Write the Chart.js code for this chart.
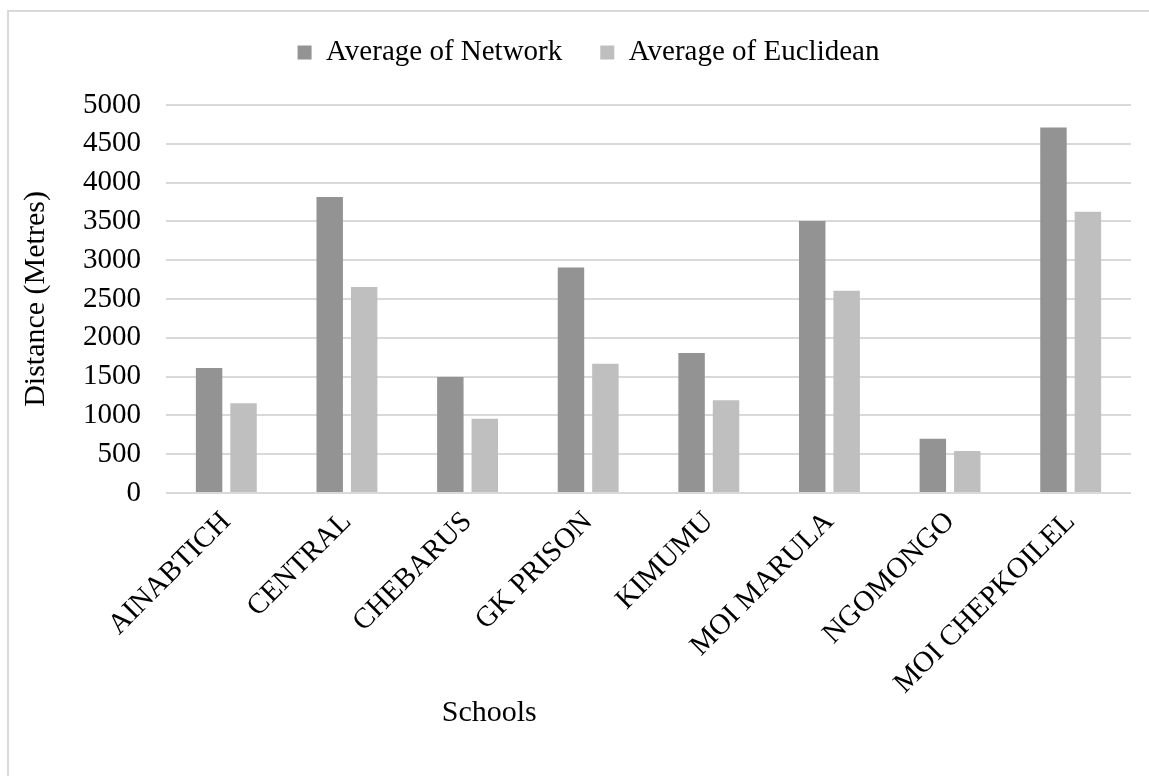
<!DOCTYPE html>
<html>
<head>
<meta charset="utf-8">
<title>Average Network and Euclidean Distance by School</title>
<script src="https://cdn.jsdelivr.net/npm/chart.js@4.4.1/dist/chart.umd.min.js"></script>
<style>
  html, body { margin: 0; padding: 0; background: #ffffff; }
  #wrap { position: relative; width: 1149px; height: 776px; }
</style>
</head>
<body>
<div id="wrap"><canvas id="chart" width="1149" height="776"></canvas></div>
<script>
// Schools on the category axis
const schools = ['AINABTICH', 'CENTRAL', 'CHEBARUS', 'GK PRISON', 'KIMUMU', 'MOI MARULA', 'NGOMONGO', 'MOI CHEPKOILEL'];

// Average distances in metres
const networkDistance = [1610, 3815, 1495, 2905, 1805, 3505, 700, 4710];
const euclideanDistance = [1155, 2655, 955, 1665, 1195, 2605, 540, 3625];

// Series names
const seriesNames = ['Average of Network', 'Average of Euclidean'];

// Axis titles and value range
const xTitle = 'Schools';
const yTitle = 'Distance (Metres)';
const yMin = 0;
const yMax = 5000;
const yStep = 500;

const serif = "'Liberation Serif', 'Times New Roman', serif";
const gridGrey = '#d9d9d9';

// Light frame round the chart, the category axis title and a small legend offset
const framePlugin = {
  id: 'frame',
  afterLayout(chart) {
    chart.legend.left += 16;
    chart.legend.right += 16;
  },
  beforeDraw(chart) {
    const ctx = chart.ctx;
    ctx.save();
    ctx.fillStyle = '#ffffff';
    ctx.fillRect(0, 0, chart.width, chart.height);
    ctx.strokeStyle = gridGrey;
    ctx.lineWidth = 2;
    ctx.beginPath();
    ctx.moveTo(8, chart.height);
    ctx.lineTo(8, 11);
    ctx.lineTo(chart.width, 11);
    ctx.stroke();
    ctx.restore();
  },
  afterDraw(chart) {
    const ctx = chart.ctx;
    const area = chart.chartArea;
    ctx.save();
    ctx.fillStyle = '#000000';
    ctx.font = '30px ' + serif;
    ctx.textAlign = 'center';
    ctx.textBaseline = 'middle';
    ctx.fillText(xTitle, area.left + area.width * 0.335, chart.height - 63);
    ctx.restore();
  }
};

new Chart(document.getElementById('chart'), {
  type: 'bar',
  data: {
    labels: schools,
    datasets: [
      {
        label: seriesNames[0],
        data: networkDistance,
        backgroundColor: '#939393',
        borderWidth: 0,
        categoryPercentage: 0.571,
        barPercentage: 0.768
      },
      {
        label: seriesNames[1],
        data: euclideanDistance,
        backgroundColor: '#bfbfbf',
        borderWidth: 0,
        categoryPercentage: 0.571,
        barPercentage: 0.768
      }
    ]
  },
  options: {
    responsive: false,
    animation: false,
    devicePixelRatio: 1,
    layout: { padding: { left: 14, right: 18, top: 0, bottom: 63 } },
    plugins: {
      legend: {
        position: 'top',
        labels: {
          boxWidth: 14,
          boxHeight: 14,
          padding: 38,
          color: '#000000',
          font: { family: serif, size: 29 }
        }
      },
      subtitle: {
        display: true,
        text: '',
        position: 'top',
        weight: 500,
        font: { size: 10 },
        padding: { top: 0, bottom: 16 }
      },
      tooltip: { enabled: false }
    },
    scales: {
      x: {
        grid: { display: false, drawTicks: false },
        border: { display: false },
        ticks: {
          color: '#000000',
          font: { family: serif, size: 29 },
          minRotation: 45,
          maxRotation: 45,
          padding: 12,
          autoSkip: false
        }
      },
      y: {
        min: yMin,
        max: yMax,
        grid: { color: gridGrey, lineWidth: 2, drawTicks: false },
        border: { display: false },
        ticks: {
          stepSize: yStep,
          color: '#000000',
          font: { family: serif, size: 29 },
          padding: 25,
          callback: (value) => String(value)
        },
        title: {
          display: true,
          text: yTitle,
          color: '#000000',
          font: { family: serif, size: 30 },
          padding: { top: 4, bottom: 4 }
        }
      }
    }
  },
  plugins: [framePlugin]
});
</script>
</body>
</html>
